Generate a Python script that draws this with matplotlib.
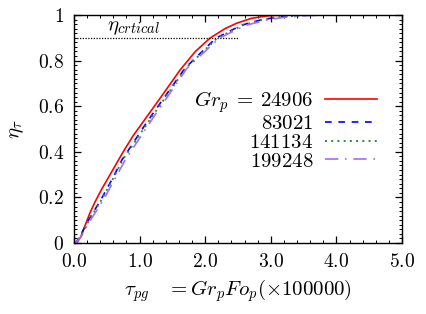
import numpy as np
import matplotlib
matplotlib.use('Agg')
import matplotlib.pyplot as plt
from matplotlib.ticker import MultipleLocator

plt.rcParams['mathtext.fontset'] = 'cm'
plt.rcParams['font.family'] = 'serif'
plt.rcParams['font.serif'] = ['cmr10', 'DejaVu Serif']
plt.rcParams['axes.formatter.use_mathtext'] = True

# 読み取ったデータ（τ_pg ×100000, η_τ）
tau_1 = [0, 0.04, 0.10, 0.16, 0.24, 0.32, 0.42, 0.52, 0.65, 0.75, 0.90, 1.06, 1.30, 1.62, 1.85, 2.07, 2.30, 2.48, 2.70, 2.94, 3.20, 3.60, 5.0]
eta_1 = [0, 0.0, 0.025, 0.07, 0.13, 0.18, 0.235, 0.285, 0.35, 0.40, 0.47, 0.534, 0.63, 0.76, 0.84, 0.898, 0.94, 0.964, 0.985, 0.996, 1.0, 1.0, 1.0]

tau_2 = [0, 0.02, 0.09, 0.22, 0.41, 0.60, 0.73, 1.12, 1.69, 2.16, 2.55, 2.84, 3.10, 3.45, 3.90, 5.0]
eta_2 = [0, 0.0, 0.028, 0.10, 0.19, 0.29, 0.364, 0.534, 0.766, 0.898, 0.955, 0.978, 0.991, 0.999, 1.0, 1.0]

tau_3 = [0, 0.02, 0.10, 0.23, 0.42, 0.61, 0.74, 1.14, 1.70, 2.18, 2.57, 2.86, 3.12, 3.50, 3.95, 5.0]
eta_3 = [0, 0.0, 0.028, 0.10, 0.19, 0.29, 0.364, 0.534, 0.766, 0.898, 0.955, 0.978, 0.991, 0.999, 1.0, 1.0]

tau_4 = [0, 0.02, 0.11, 0.25, 0.45, 0.64, 0.78, 1.17, 1.72, 2.21, 2.62, 2.94, 3.20, 3.60, 4.10, 5.0]
eta_4 = [0, 0.0, 0.028, 0.10, 0.19, 0.29, 0.364, 0.534, 0.766, 0.898, 0.955, 0.978, 0.990, 0.998, 1.0, 1.0]

labels = [r'$Gr_p \:=\: 24906$', '$83021$', '$141134$', '$199248$']
eta_crit = 0.9
x_ticks = [0, 1, 2, 3, 4, 5]
x_ticklabels = ['0.0', '1.0', '2.0', '3.0', '4.0', '5.0']
y_ticks = [0, 0.2, 0.4, 0.6, 0.8, 1.0]
y_ticklabels = ['0', '0.2', '0.4', '0.6', '0.8', '1']

fig = plt.figure(figsize=(4.27, 3.14), dpi=100)
ax = fig.add_axes([0.1733, 0.2261, 0.7682, 0.7261])

ax.plot(tau_1, eta_1, '-', color='#ff0000', lw=1.2, label=labels[0])
ax.plot(tau_2, eta_2, '--', color='#0000ff', lw=1.2, dashes=(4, 4), label=labels[1])
ax.plot(tau_3, eta_3, ':', color='#2e8b2e', lw=1.4, dashes=(1, 2.2), label=labels[2])
ax.plot(tau_4, eta_4, '-.', color='#a070f0', lw=1.2, dashes=(8, 4, 1, 4), label=labels[3])

# 臨界値の線
ax.plot([0, 2.5], [eta_crit, eta_crit], ':', color='black', lw=0.9, dashes=(1, 1.2))
ax.text(0.5, 0.935, r'$\eta_{crtical}$', fontsize=15, ha='left', va='baseline')

ax.set_xlim(0, 5)
ax.set_ylim(0, 1)
ax.set_xticks(x_ticks)
ax.set_xticklabels(['$%s$' % s for s in x_ticklabels])
ax.set_yticks(y_ticks)
ax.set_yticklabels(['$%s$' % s for s in y_ticklabels])
ax.xaxis.set_minor_locator(MultipleLocator(0.2))
ax.yaxis.set_minor_locator(MultipleLocator(0.02))
ax.tick_params(which='both', direction='in', top=True, right=True, labelsize=14)
ax.tick_params(which='major', length=5, width=0.9, pad=7)
ax.tick_params(which='minor', length=2.5, width=0.7)
for sp in ax.spines.values():
    sp.set_linewidth(1.0)

ax.set_xlabel(r'$\tau_{pg}\quad = Gr_pFo_p(\times 100000)$', fontsize=15, labelpad=5)
ax.set_ylabel(r'$\eta_\tau$', fontsize=15, labelpad=9)

# markerfirst=False なのでテキストは右寄せになる
leg = ax.legend(loc='center right', bbox_to_anchor=(0.925, 0.496), frameon=False,
                markerfirst=False, fontsize=15, handlelength=2.5, handletextpad=0.58,
                labelspacing=0.0, borderpad=0, borderaxespad=0)

fig.savefig('out.png', dpi=100)
